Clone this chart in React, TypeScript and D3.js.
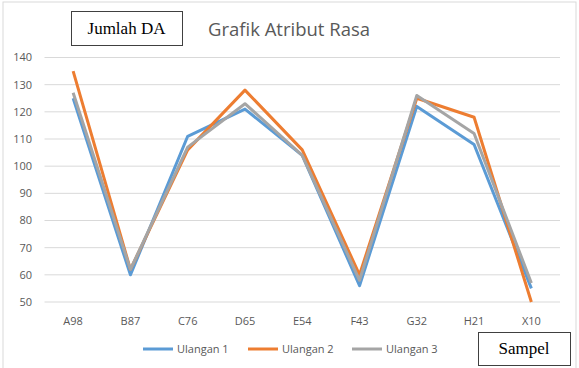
import React, { useEffect, useRef } from "react";
import * as d3 from "d3";

const categories = ["A98", "B87", "C76", "D65", "E54", "F43", "G32", "H21", "X10"];
const ulangan1 = [125, 60, 111, 121, 104, 56, 122, 108, 55];
const ulangan2 = [135, 62, 106, 128, 106, 60, 125, 118, 50];
const ulangan3 = [127, 62, 107, 123, 104, 58, 126, 112, 57];
const seriesNames = ["Ulangan 1", "Ulangan 2", "Ulangan 3"];
const yTicks = [50, 60, 70, 80, 90, 100, 110, 120, 130, 140];

const colors = ["#5B9BD5", "#ED7D31", "#A5A5A5"];

const App: React.FC = () => {
  const svgRef = useRef<SVGSVGElement>(null);
  const width = 579;
  const height = 368;

  useEffect(() => {
    if (!svgRef.current) return;
    const svg = d3.select(svgRef.current);
    svg.selectAll("*").remove();

    const font = "Open Sans, Calibri, sans-serif";
    const plot = { left: 44.5, right: 560, top: 57.5, bottom: 302 };

    // outer chart border
    svg.append("rect")
      .attr("x", 3).attr("y", 2)
      .attr("width", 573).attr("height", 370)
      .attr("fill", "white")
      .attr("stroke", "#D9D9D9");

    const x = d3.scaleBand()
      .domain(categories)
      .range([plot.left, plot.right]);

    const y = d3.scaleLinear()
      .domain([50, 140])
      .range([plot.bottom, plot.top]);

    // gridlines
    svg.append("g")
      .selectAll("line")
      .data(yTicks)
      .join("line")
      .attr("x1", plot.left)
      .attr("x2", plot.right)
      .attr("y1", d => y(d))
      .attr("y2", d => y(d))
      .attr("stroke", "#D9D9D9")
      .attr("stroke-width", 1);

    // y tick labels
    svg.append("g")
      .selectAll("text")
      .data(yTicks)
      .join("text")
      .attr("x", 32)
      .attr("y", d => y(d))
      .attr("dy", "0.35em")
      .attr("text-anchor", "end")
      .style("font-family", font)
      .style("font-size", "11px")
      .attr("fill", "#595959")
      .text(d => d);

    // x tick labels
    svg.append("g")
      .selectAll("text")
      .data(categories)
      .join("text")
      .attr("x", d => (x(d) || 0) + x.bandwidth() / 2)
      .attr("y", 325)
      .attr("text-anchor", "middle")
      .style("font-family", font)
      .style("font-size", "11px")
      .attr("fill", "#595959")
      .text(d => d);

    const line = d3.line<number>()
      .x((d, i) => (x(categories[i]) || 0) + x.bandwidth() / 2)
      .y(d => y(d));

    // lines
    [ulangan1, ulangan2, ulangan3].forEach((values, i) => {
      svg.append("path")
        .datum(values)
        .attr("fill", "none")
        .attr("stroke", colors[i])
        .attr("stroke-width", 3)
        .attr("stroke-linejoin", "round")
        .attr("d", line);
    });

    // title
    svg.append("text")
      .attr("x", 289)
      .attr("y", 36)
      .attr("text-anchor", "middle")
      .style("font-family", font)
      .style("font-size", "18.5px")
      .attr("fill", "#595959")
      .text("Grafik Atribut Rasa");

    // legend
    const legendX = [143, 248, 352];
    const legend = svg.append("g");
    const items = legend.selectAll("g")
      .data(seriesNames)
      .join("g")
      .attr("transform", (d, i) => `translate(${legendX[i]}, 349)`);

    items.append("line")
      .attr("x1", 0).attr("x2", 30)
      .attr("y1", 0).attr("y2", 0)
      .attr("stroke", (d, i) => colors[i])
      .attr("stroke-width", 3);

    items.append("text")
      .attr("x", 34)
      .attr("dy", "0.35em")
      .style("font-family", font)
      .style("font-size", "11px")
      .attr("fill", "#595959")
      .text(d => d);

    // annotation boxes
    const boxes = [
      { label: "Jumlah DA", x: 71, y: 11, w: 111, h: 34 },
      { label: "Sampel", x: 478, y: 332, w: 92, h: 33 },
    ];
    boxes.forEach(b => {
      svg.append("rect")
        .attr("x", b.x + 0.5).attr("y", b.y + 0.5)
        .attr("width", b.w).attr("height", b.h)
        .attr("fill", "white")
        .attr("stroke", "#404040")
        .attr("stroke-width", 1);
      svg.append("text")
        .attr("x", b.x + b.w / 2)
        .attr("y", b.y + b.h / 2)
        .attr("dy", "0.35em")
        .attr("text-anchor", "middle")
        .style("font-family", "Liberation Serif, Times New Roman, serif")
        .style("font-size", "17px")
        .attr("fill", "#000")
        .text(b.label);
    });
  }, []);

  return (
    <svg
      ref={svgRef}
      width={width}
      height={height}
      style={{ position: "absolute", left: 0, top: 0 }}
    ></svg>
  );
};

export default App;
